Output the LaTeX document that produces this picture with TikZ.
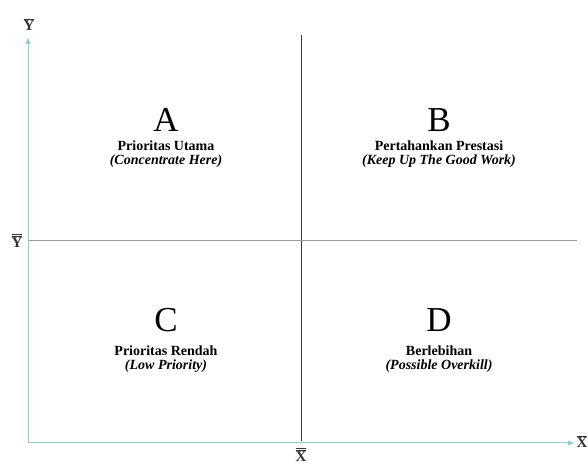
\documentclass[tikz,border=0pt]{standalone}
\usepackage{fontspec}
\setmainfont{Liberation Serif}
\usetikzlibrary{arrows.meta}
\definecolor{axiscol}{HTML}{8FD3C6}
\definecolor{vcol}{HTML}{3A3A3A}
\definecolor{hcol}{HTML}{9A9A9A}
\tikzset{
  axis/.style={draw=axiscol, line width=1pt, -{Triangle[length=6pt,width=5pt]}},
  quadline/.style={line width=1pt},
  bigletter/.style={font=\fontsize{35}{35}\selectfont, inner sep=0pt, anchor=base},
  title/.style={font=\fontsize{14}{14}\selectfont\bfseries, inner sep=0pt, anchor=base},
  subtitle/.style={font=\fontsize{14}{14}\selectfont\bfseries\itshape, inner sep=0pt, anchor=base},
  axlabel/.style={font=\fontsize{15}{15}\selectfont, inner sep=0pt, text=black!80}
}
\begin{document}
\begin{tikzpicture}[x=1pt,y=1pt]
\useasboundingbox (0,0) rectangle (588,465);
\fill[white] (0,0) rectangle (588,465);
% axes
\coordinate (O) at (28,22);
\coordinate (Ytip) at (28,427);
\coordinate (Xtip) at (574,22);
\draw[axis] (O) -- (Ytip);
\draw[axis] (O) -- (Xtip);
% quadrant lines
\coordinate (vtop) at (301,430);
\coordinate (vbot) at (301,24);
\coordinate (hleft) at (29,224.5);
\coordinate (hright) at (577,224.5);
\draw[quadline, draw=vcol] (vtop) -- (vbot);
\draw[quadline, draw=hcol] (hleft) -- (hright);
% axis labels
\node[axlabel] (ylab) at (29,440) {$\overline{\mathbf{Y}}$};
\node[axlabel] (ybarbar) at (17,224) {$\overline{\overline{\mathbf{Y}}}$};
\node[axlabel] (xbarbar) at (301,10) {$\overline{\overline{\mathbf{X}}}$};
\node[axlabel] (xlab) at (582,23) {$\overline{\mathbf{X}}$};
% quadrant texts
\node[bigletter] (A) at (166,333) {A};
\node[title] (A1) at (166,314) {Prioritas Utama};
\node[subtitle] (A2) at (166,300) {(Concentrate Here)};
\node[bigletter] (B) at (439,333) {B};
\node[title] (B1) at (439,314) {Pertahankan Prestasi};
\node[subtitle] (B2) at (439,300) {(Keep Up The Good Work)};
\node[bigletter] (C) at (166,133) {C};
\node[title] (C1) at (166,109) {Prioritas Rendah};
\node[subtitle] (C2) at (166,95) {(Low Priority)};
\node[bigletter] (D) at (439,133) {D};
\node[title] (D1) at (439,109) {Berlebihan};
\node[subtitle] (D2) at (439,95) {(Possible Overkill)};
\end{tikzpicture}
\end{document}
